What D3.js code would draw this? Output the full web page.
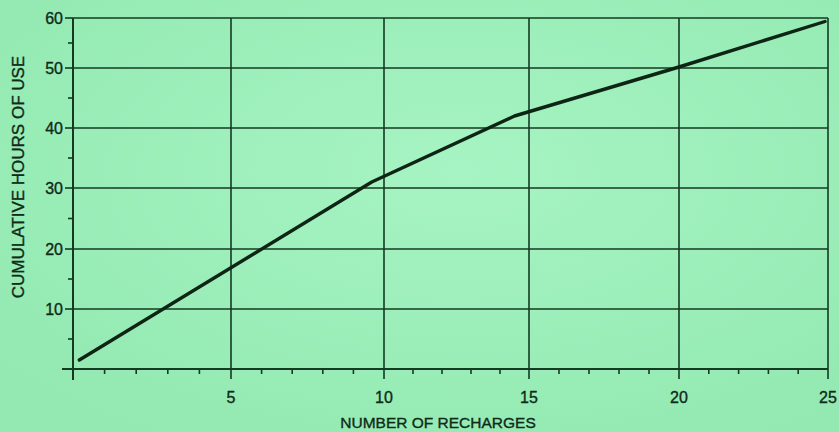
<!DOCTYPE html>
<html>
<head>
<meta charset="utf-8">
<script src="https://cdn.jsdelivr.net/npm/d3@7"></script>
<style>
  html, body { margin: 0; padding: 0; background: #9cefb9; }
  svg { display: block; }
  text { font-family: "Liberation Sans", Arial, Helvetica, sans-serif; fill: #0f2a18; stroke: #0f2a18; stroke-width: 0.35px; }
</style>
</head>
<body>
<svg id="chart" width="839" height="432"></svg>
<script>
// Cumulative hours of use versus number of recharges
const recharges = [0.2, 9.6, 14.5, 20, 24.9];
const cumulativeHours = [1.5, 31, 42, 50.2, 59.3];

const xTickValues = [5, 10, 15, 20, 25];
const xTickLabels = ["5", "10", "15", "20", "25"];
const yTickValues = [10, 20, 30, 40, 50, 60];
const yTickLabels = ["10", "20", "30", "40", "50", "60"];
const xMinorTicks = d3.range(1, 25).filter(v => v % 5 !== 0);
const yMinorTicks = [5, 15, 25, 35, 45, 55];

const xTitle = "NUMBER OF RECHARGES";
const yTitle = "CUMULATIVE  HOURS OF USE";

// Hand-ruled grid: stops of the scales follow the drawn divisions
const x = d3.scaleLinear()
  .domain([0, 5, 10, 15, 20, 25])
  .range([73, 231, 384, 529, 679, 828]);
const y = d3.scaleLinear()
  .domain([0, 10, 20, 30, 40, 50, 60])
  .range([369, 309, 249, 188, 128, 68, 18]);

const svg = d3.select("#chart");
const ink = "#143a22";

// subtle print tone
const defs = svg.append("defs");
const grad = defs.append("radialGradient").attr("id", "tone")
  .attr("cx", "55%").attr("cy", "40%").attr("r", "70%");
grad.append("stop").attr("offset", "0%").attr("stop-color", "#a6f4c3");
grad.append("stop").attr("offset", "100%").attr("stop-color", "#93e9b1");
svg.append("rect").attr("width", 839).attr("height", 432).attr("fill", "url(#tone)");

const g = svg.append("g");

// horizontal grid lines
g.selectAll(".hgrid").data(yTickValues).join("line")
  .attr("x1", x(0)).attr("x2", x(25))
  .attr("y1", d => y(d)).attr("y2", d => y(d))
  .attr("stroke", ink).attr("stroke-width", 1.6);

// vertical grid lines
g.selectAll(".vgrid").data(xTickValues).join("line")
  .attr("x1", d => x(d)).attr("x2", d => x(d))
  .attr("y1", y(0)).attr("y2", y(60))
  .attr("stroke", ink).attr("stroke-width", 1.6);

// axes (extend slightly past the origin)
g.append("line").attr("x1", x(0) - 11).attr("x2", x(25))
  .attr("y1", y(0)).attr("y2", y(0))
  .attr("stroke", ink).attr("stroke-width", 2);
g.append("line").attr("x1", x(0)).attr("x2", x(0))
  .attr("y1", y(0) + 11).attr("y2", y(60))
  .attr("stroke", ink).attr("stroke-width", 2);

// y ticks
g.selectAll(".ytick").data(yTickValues).join("line")
  .attr("x1", x(0) - 8).attr("x2", x(0))
  .attr("y1", d => y(d)).attr("y2", d => y(d))
  .attr("stroke", ink).attr("stroke-width", 1.6);
g.selectAll(".yminor").data(yMinorTicks).join("line")
  .attr("x1", x(0) - 5).attr("x2", x(0))
  .attr("y1", d => y(d)).attr("y2", d => y(d))
  .attr("stroke", ink).attr("stroke-width", 1.6);

// x ticks
g.selectAll(".xtick").data(xTickValues).join("line")
  .attr("x1", d => x(d)).attr("x2", d => x(d))
  .attr("y1", y(0)).attr("y2", y(0) + 10)
  .attr("stroke", ink).attr("stroke-width", 1.6);
g.selectAll(".xminor").data(xMinorTicks).join("line")
  .attr("x1", d => x(d)).attr("x2", d => x(d))
  .attr("y1", y(0)).attr("y2", y(0) + 5)
  .attr("stroke", ink).attr("stroke-width", 1.6);

// tick labels
g.selectAll(".ylabel").data(yTickValues).join("text")
  .attr("x", x(0) - 10).attr("y", d => y(d))
  .attr("dy", "0.36em").attr("text-anchor", "end")
  .style("font-size", "16px")
  .text((d, i) => yTickLabels[i]);
g.selectAll(".xlabel").data(xTickValues).join("text")
  .attr("x", d => x(d)).attr("y", 403)
  .attr("text-anchor", "middle")
  .style("font-size", "16px")
  .text((d, i) => xTickLabels[i]);

// axis titles
g.append("text").attr("x", 438).attr("y", 428)
  .attr("text-anchor", "middle").style("font-size", "15.5px")
  .text(xTitle);
g.append("text")
  .attr("transform", "translate(24,177) rotate(-90)")
  .attr("text-anchor", "middle").style("font-size", "17px")
  .text(yTitle);

// data line
const pts = recharges.map((r, i) => [r, cumulativeHours[i]]);
g.append("path").datum(pts)
  .attr("d", d3.line().x(d => x(d[0])).y(d => y(d[1])))
  .attr("fill", "none").attr("stroke", "#0e2515")
  .attr("stroke-width", 3.4).attr("stroke-linejoin", "round")
  .attr("stroke-linecap", "round");
</script>
</body>
</html>
